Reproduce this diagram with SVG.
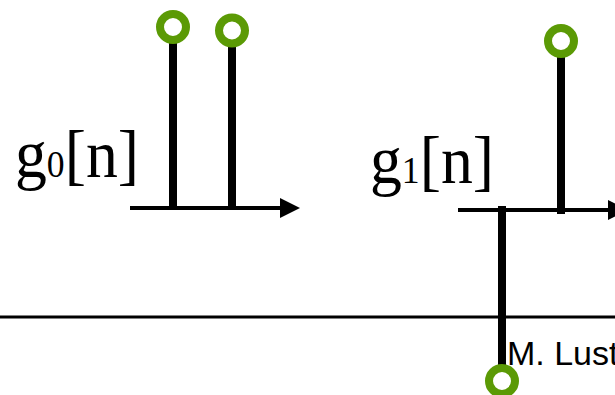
<svg xmlns="http://www.w3.org/2000/svg" width="615" height="395" viewBox="0 0 615 395">
<style>
.stem{stroke:#000;stroke-width:8;fill:none}
.axis{stroke:#000;stroke-width:4;fill:none}
.dot{fill:#fff;stroke:#5b9a05;stroke-width:8}
.lbl{font-family:"Liberation Serif","Times New Roman",serif;font-size:68px;fill:#000}
.sub{font-size:38px}
</style>
<defs>
<marker id="ah" markerUnits="userSpaceOnUse" markerWidth="20" markerHeight="20" refX="0" refY="10" orient="auto" viewBox="0 0 20 20">
<path d="M0,0 L20,10 L0,20 Z" fill="#000"/>
</marker>
</defs>
<rect width="615" height="395" fill="#fff"/>
<g id="g0">
<path class="axis" d="M130,208 H280" marker-end="url(#ah)"/>
<path class="stem" d="M173,208 V42"/>
<path class="stem" d="M232,208 V45"/>
<circle class="dot" cx="173" cy="27" r="13"/>
<circle class="dot" cx="232" cy="30.5" r="13"/>
<text class="lbl" x="15" y="177" textLength="124" lengthAdjust="spacingAndGlyphs">g<tspan class="sub">0</tspan>[n]</text>
</g>
<g id="g1">
<path class="axis" d="M458,210 H608" marker-end="url(#ah)"/>
<path class="stem" d="M561,214 V55"/>
<path class="stem" d="M502,206 V367"/>
<circle class="dot" cx="561" cy="41" r="13"/>
<circle class="dot" cx="502" cy="381" r="13"/>
<text class="lbl" x="370" y="183" textLength="124" lengthAdjust="spacingAndGlyphs">g<tspan class="sub">1</tspan>[n]</text>
</g>
<g id="footer">
<path d="M0,317 H615" stroke="#000" stroke-width="3"/>
<text x="507" y="365" font-family="Liberation Sans, Arial, sans-serif" font-size="34" fill="#000">M. Lust</text>
</g>
</svg>
